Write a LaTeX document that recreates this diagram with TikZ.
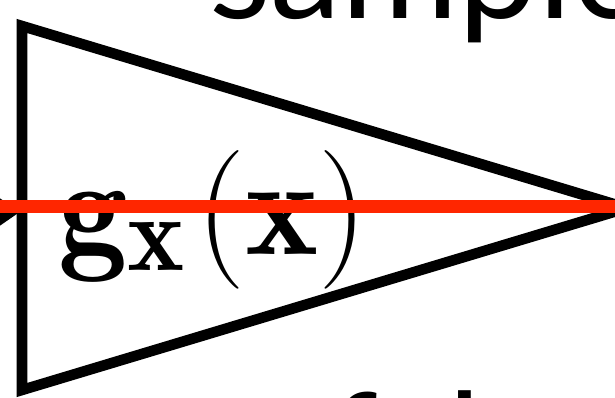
\RequirePackage{fix-cm}
\documentclass[tikz,border=0pt]{standalone}
\usepackage{fontspec}
\newfontfamily\labelfont{Lato}
\usetikzlibrary{arrows.meta}
\definecolor{SignalRed}{RGB}{255,38,0}

\begin{document}
\begin{tikzpicture}[x=0.02cm, y=-0.02cm,
  block/.style={draw=black, line width=6pt, line join=miter},
  arr/.style={-{Triangle[length=0.6cm, width=0.78cm]}, line width=6pt},
  signal/.style={draw=SignalRed, line width=7.4pt},
  word/.style={font=\labelfont\fontsize{81}{90}\selectfont, inner sep=0pt, anchor=base west},
  formula/.style={font=\fontsize{79}{90}\selectfont, inner sep=0pt, anchor=base west},
]
\useasboundingbox (0,0) rectangle (615,398);
\clip (0,0) rectangle (615,398);

\coordinate (top)  at (22,26);
\coordinate (apex) at (627,208);
\coordinate (bot)  at (22,390);
\coordinate (feed) at (-60,212);
\coordinate (edge) at (20,212);
\coordinate (redin)  at (-10,206.5);
\coordinate (redout) at (630,206.5);

\draw[block] (top) -- (apex) -- (bot) -- cycle;
\draw[arr] (feed) -- (edge);

\node[formula] (gen) at (58,255)
  {$\mathbf{g}\raisebox{-0.32cm}{\scalebox{0.78}{$\mathbf{x}$}}\mkern1.5mu(\mathbf{x})$};
\node[word] (sample) at (209,19) {sample};
\node[word] (fake) at (328,495) {fake};

\draw[signal] (redin) -- (redout);
\end{tikzpicture}
\end{document}
